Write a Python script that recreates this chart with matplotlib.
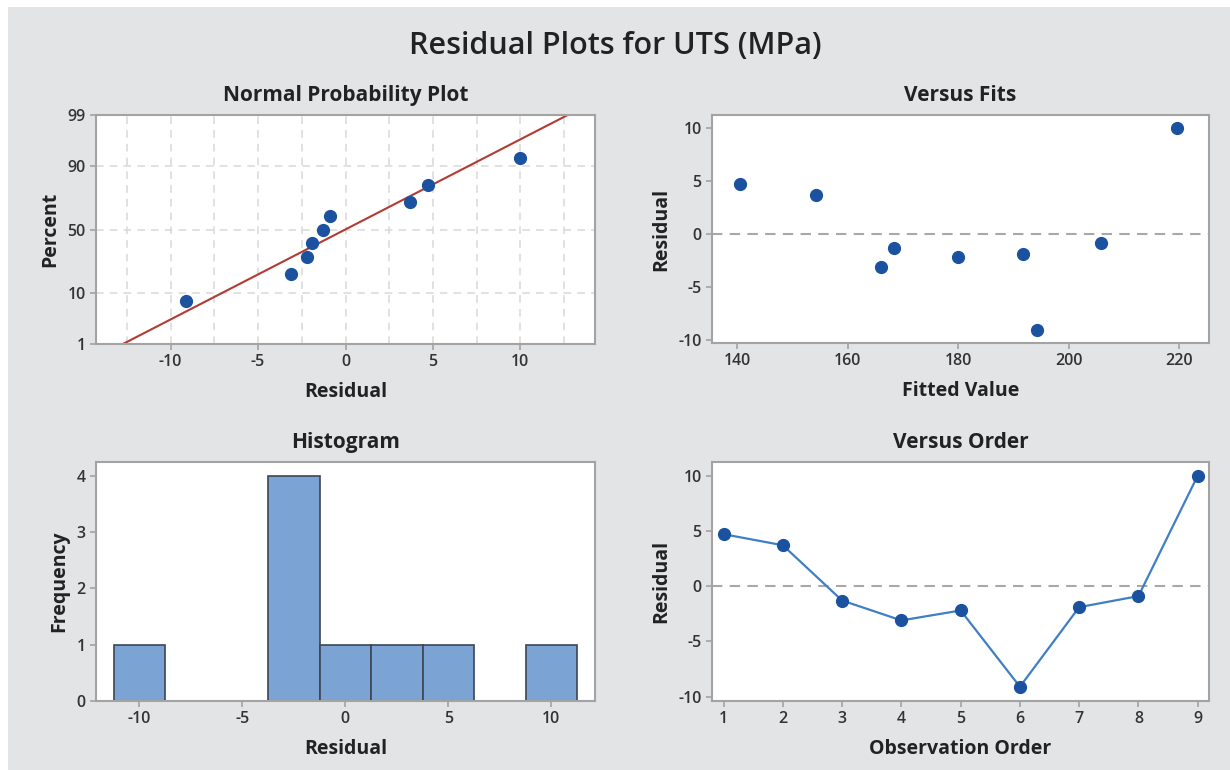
import numpy as np
import matplotlib
matplotlib.use("Agg")
import matplotlib.pyplot as plt
from matplotlib.patches import Rectangle
from statistics import NormalDist

# ── Data ──────────────────────────────────────────────────
order = [1, 2, 3, 4, 5, 6, 7, 8, 9]
residuals = [4.7, 3.7, -1.3, -3.1, -2.2, -9.1, -1.9, -0.9, 10.0]
fitted = [140.5, 154.3, 168.3, 166.0, 180.0, 194.2, 191.7, 205.9, 219.6]

prob_ticks = [1, 10, 50, 90, 99]
hist_edges = [-11.25, -8.75, -6.25, -3.75, -1.25, 1.25, 3.75, 6.25, 8.75, 11.25]

# ── Style ─────────────────────────────────────────────────
plt.rcParams["font.family"] = ["Open Sans", "DejaVu Sans"]
plt.rcParams["axes.unicode_minus"] = False
BG = "#e3e4e6"
SPINE = "#a3a3a3"
DOT = "#1b52a0"
TXT = "#222222"
TICK = "#333333"

nd = NormalDist()
W, H = 1230, 770
fig = plt.figure(figsize=(W / 100, H / 100), dpi=100, facecolor="white")
fig.patches.append(Rectangle((8 / W, 0), 1, 1 - 7 / H, transform=fig.transFigure,
                             facecolor=BG, edgecolor="none", zorder=-10))


def make_ax(l, t, r, b):
    ax = fig.add_axes([l / W, 1 - b / H, (r - l) / W, (b - t) / H])
    ax.set_facecolor("white")
    for s in ax.spines.values():
        s.set_color(SPINE)
        s.set_linewidth(1.5)
    ax.tick_params(colors=SPINE, labelcolor=TICK, length=4, width=1.2,
                   labelsize=11.5)
    return ax


def style(ax, title, xlabel, ylabel):
    ax.set_title(title, fontsize=15, fontweight="bold", color=TXT, pad=10)
    ax.set_xlabel(xlabel, fontsize=14, fontweight="bold", color=TXT, labelpad=8)
    ax.set_ylabel(ylabel, fontsize=14, fontweight="bold", color=TXT, labelpad=5)
    for lab in ax.get_xticklabels() + ax.get_yticklabels():
        lab.set_fontweight("semibold")


fig.text(0.5, 1 - 46 / H, "Residual Plots for UTS (MPa)", ha="center",
         va="center", fontsize=22, fontweight="semibold", color=TXT)

# ── Normal probability plot ──────────────────────────────
ax1 = make_ax(96, 115, 595, 344)
r_sorted = np.sort(residuals)
n = len(r_sorted)
pct = (np.arange(1, n + 1) - 0.3) / (n + 0.4)
zq = [nd.inv_cdf(p) for p in pct]
mu = np.mean(residuals)
sd = np.std(residuals, ddof=1)
zlo, zhi = nd.inv_cdf(0.01), nd.inv_cdf(0.99)
for g in np.arange(-12.5, 12.6, 2.5):
    ax1.axvline(g, color="#d9d9d9", ls=(0, (5, 4)), lw=1.1, zorder=0)
for p in [10, 50, 90]:
    ax1.axhline(nd.inv_cdf(p / 100), color="#d9d9d9", ls=(0, (5, 4)), lw=1.1, zorder=0)
ax1.plot([mu + zlo * sd, mu + zhi * sd], [zlo, zhi], color="#b23b33", lw=1.5, zorder=2)
ax1.plot(r_sorted, zq, "o", color=DOT, ms=8.5, zorder=3)
ax1.set_xlim(-14.27, 14.27)
ax1.set_ylim(zlo, zhi)
ax1.set_xticks([-10, -5, 0, 5, 10])
ax1.set_yticks([nd.inv_cdf(p / 100) for p in prob_ticks])
ax1.set_yticklabels([str(p) for p in prob_ticks])
style(ax1, "Normal Probability Plot", "Residual", "Percent")

# ── Versus fits ──────────────────────────────────────────
ax2 = make_ax(712, 115, 1209, 343)
ax2.axhline(0, color="#a8a8a8", ls=(0, (5, 3.5)), lw=1.5, zorder=1)
ax2.plot(fitted, residuals, "o", color=DOT, ms=8.5, zorder=3)
ax2.set_xlim(135.4, 225.4)
ax2.set_ylim(-10.3, 11.2)
ax2.set_xticks([140, 160, 180, 200, 220])
ax2.set_yticks([-10, -5, 0, 5, 10])
style(ax2, "Versus Fits", "Fitted Value", "Residual")

# ── Histogram ────────────────────────────────────────────
ax3 = make_ax(96, 462, 595, 701)
ax3.hist(residuals, bins=hist_edges, color="#7ba3d3", edgecolor="#3c4654", lw=1.2)
ax3.set_xlim(-12.1, 12.12)
ax3.set_ylim(0, 4.24)
ax3.set_xticks([-10, -5, 0, 5, 10])
ax3.set_yticks([0, 1, 2, 3, 4])
style(ax3, "Histogram", "Residual", "Frequency")

# ── Versus order ─────────────────────────────────────────
ax4 = make_ax(712, 462, 1209, 701)
ax4.axhline(0, color="#a8a8a8", ls=(0, (5, 3.5)), lw=1.5, zorder=1)
ax4.plot(order, residuals, "-", color="#3f7fc6", lw=1.6, zorder=2)
ax4.plot(order, residuals, "o", color=DOT, ms=8.5, zorder=3)
ax4.set_xlim(0.805, 9.19)
ax4.set_ylim(-10.39, 11.23)
ax4.set_xticks(order)
ax4.set_yticks([-10, -5, 0, 5, 10])
style(ax4, "Versus Order", "Observation Order", "Residual")

fig.savefig("out.png", dpi=100, facecolor=fig.get_facecolor())
